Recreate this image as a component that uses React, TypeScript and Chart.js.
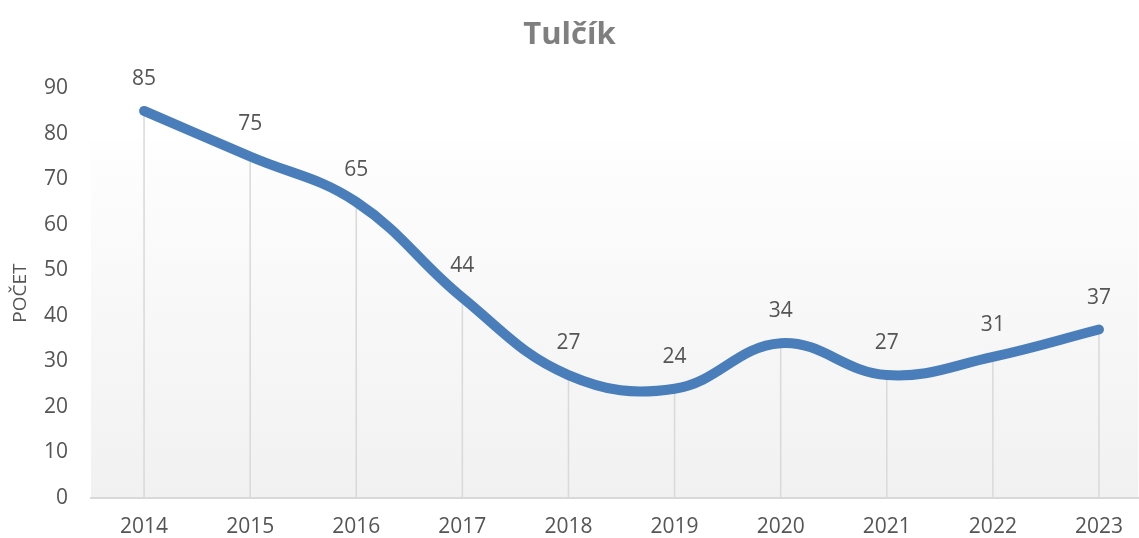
import React, { useEffect, useRef } from "react";
import { Chart, registerables } from "chart.js";

Chart.register(...registerables);

const years = [2014, 2015, 2016, 2017, 2018, 2019, 2020, 2021, 2022, 2023];
const counts = [85, 75, 65, 44, 27, 24, 34, 27, 31, 37];
const yTicks = [0, 10, 20, 30, 40, 50, 60, 70, 80, 90];
const titleText = "Tulčík";
const yTitle = "POČET";

const FONT = '"Open Sans", "Noto Sans", sans-serif';

const decorPlugin = {
  id: "decor",
  beforeDraw(chart: any) {
    const { ctx, chartArea } = chart;
    const top = chartArea.top + 53;
    const g = ctx.createLinearGradient(0, top, 0, chartArea.bottom);
    g.addColorStop(0, "#fefefe");
    g.addColorStop(1, "#f1f1f1");
    ctx.save();
    ctx.fillStyle = g;
    ctx.fillRect(chartArea.left, top, chartArea.right - chartArea.left, chartArea.bottom - top);
    ctx.restore();
  },
  beforeDatasetsDraw(chart: any) {
    const { ctx, chartArea } = chart;
    const meta = chart.getDatasetMeta(0);
    ctx.save();
    ctx.strokeStyle = "#d9d9d9";
    ctx.lineWidth = 1.5;
    meta.data.forEach((pt: any) => {
      ctx.beginPath();
      ctx.moveTo(pt.x, pt.y);
      ctx.lineTo(pt.x, chartArea.bottom);
      ctx.stroke();
    });
    ctx.restore();
  },
  afterDatasetsDraw(chart: any) {
    const { ctx } = chart;
    const meta = chart.getDatasetMeta(0);
    ctx.save();
    ctx.fillStyle = "#555555";
    ctx.font = `21px ${FONT}`;
    ctx.textAlign = "center";
    ctx.textBaseline = "middle";
    meta.data.forEach((pt: any, i: number) => {
      ctx.fillText(String(counts[i]), pt.x, pt.y - 32);
    });
    ctx.restore();
  },
};

export default function App() {
  const ref = useRef<HTMLCanvasElement | null>(null);
  useEffect(() => {
    if (!ref.current) return;
    const chart = new Chart(ref.current, {
      type: "line",
      data: {
        datasets: [
          {
            data: years.map((x, i) => ({ x, y: counts[i] })),
            borderColor: "#4a7ebb",
            borderWidth: 10,
            borderCapStyle: "round",
            borderJoinStyle: "round",
            pointRadius: 0,
            tension: 0.4,
            fill: false,
          },
        ],
      },
      options: {
        animation: false,
        responsive: true,
        maintainAspectRatio: false,
        layout: { padding: 0 },
        plugins: {
          legend: { display: false },
          tooltip: { enabled: false },
          title: {
            display: true,
            text: titleText,
            color: "#7f7f7f",
            font: { family: FONT, size: 31, weight: "bold" },
            padding: { top: 17, bottom: 34 },
          },
        },
        scales: {
          x: {
            type: "linear",
            min: 2013.5,
            max: 2023.37,
            afterBuildTicks: (s: any) => {
              s.ticks = years.map((v) => ({ value: v }));
            },
            afterFit: (s: any) => {
              s.height = 40;
            },
            grid: { display: false, drawTicks: false },
            border: { display: true, color: "#d9d9d9", width: 2 },
            ticks: {
              color: "#555555",
              font: { family: FONT, size: 21 },
              padding: 16,
              autoSkip: false,
              maxRotation: 0,
              callback: (v: any) => String(v),
            },
          },
          y: {
            min: 0,
            max: 90,
            afterBuildTicks: (s: any) => {
              s.ticks = yTicks.map((v) => ({ value: v }));
            },
            afterFit: (s: any) => {
              s.width = 91;
            },
            grid: { display: false, drawTicks: false },
            border: { display: false },
            ticks: {
              color: "#555555",
              font: { family: FONT, size: 21 },
              padding: 23,
              callback: (v: any) => String(v),
            },
            title: {
              display: true,
              text: yTitle,
              color: "#555555",
              font: { family: FONT, size: 19 },
              padding: { top: 9, bottom: 0 },
            },
          },
        },
      },
      plugins: [decorPlugin],
    } as any);
    return () => chart.destroy();
  }, []);
  return (
    <div style={{ position: "absolute", left: 0, top: 0, width: 1139, height: 538 }}>
      <canvas ref={ref} />
    </div>
  );
}
